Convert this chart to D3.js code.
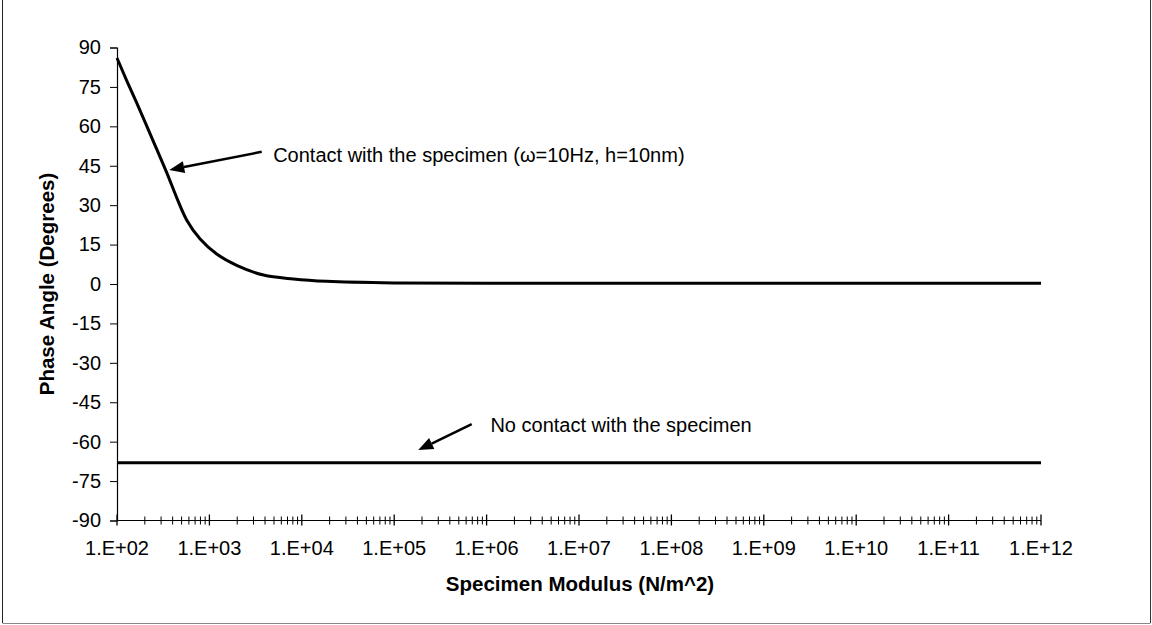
<!DOCTYPE html>
<html><head><meta charset="utf-8">
<script src="https://cdn.jsdelivr.net/npm/d3@7"></script>
<style>body{margin:0;background:#fff}svg{display:block}text{font-family:"Liberation Sans",Arial,sans-serif;fill:#000}</style>
</head><body><svg id="c" width="1152" height="625"></svg>
<script>
// Data
const contactModulus = [1e2, 1.27e2, 1.63e2, 2.09e2, 2.69e2, 3.47e2, 4.47e2, 5.69e2, 7.94e2, 1.2e3, 2e3, 3.85e3, 8.1e3, 1.86e4, 1e5, 1e6, 1e8, 1e10, 1e12];
const contactPhase   = [86, 77.5, 69, 60.3, 51.3, 42.2, 32.5, 24.3, 17.1, 11.4, 7, 3.4, 1.9, 1.0, 0.4, 0.3, 0.3, 0.3, 0.3];
const noContactModulus = [1e2, 1e4, 1e6, 1e8, 1e10, 1e12];
const noContactPhase   = [-68, -68, -68, -68, -68, -68];
const yTicks = [90, 75, 60, 45, 30, 15, 0, -15, -30, -45, -60, -75, -90];
const xTickLabels = ["1.E+02","1.E+03","1.E+04","1.E+05","1.E+06","1.E+07","1.E+08","1.E+09","1.E+10","1.E+11","1.E+12"];
const annotations = [
  {text: "Contact with the specimen (\u03c9=10Hz, h=10nm)", tipX: 368, tipY: 43.4, tailX: 3680, tailY: 50.3, textX: 4900, textY: 46.4},
  {text: "No contact with the specimen", tipX: 1.82e5, tipY: -63.2, tailX: 6.9e5, tailY: -53.3, textX: 1.1e6, textY: -56.3}
];

(function(){
const svg = d3.select("#c");
const pL = 117, pR = 1041, pT = 47.5, pB = 520.5;
const x = d3.scaleLog().domain([1e2, 1e12]).range([pL, pR]);
const y = d3.scaleLinear().domain([-90, 90]).range([pB, pT]);

// frame
svg.append("line").attr("x1",2.5).attr("x2",2.5).attr("y1",0).attr("y2",623).attr("stroke","#222");
svg.append("line").attr("x1",1150.5).attr("x2",1150.5).attr("y1",0).attr("y2",623).attr("stroke","#333");
svg.append("line").attr("x1",2.5).attr("x2",1150.5).attr("y1",623.5).attr("y2",623.5).attr("stroke","#888");

// Y axis
const yAxis = d3.axisLeft(y).tickValues(yTicks).tickSize(7).tickPadding(9).tickFormat(d => String(d));
const gy = svg.append("g").attr("transform",`translate(${pL},0)`).call(yAxis);
gy.select(".domain").attr("stroke","#000").attr("stroke-width",1.2);
gy.selectAll(".tick line").attr("stroke","#000");
gy.selectAll("text").attr("font-size",20).attr("font-family","Liberation Sans, Arial").attr("fill","#000");

// X axis with log minor cross ticks
const gx = svg.append("g");
gx.append("line").attr("x1",pL).attr("x2",pR).attr("y1",pB).attr("y2",pB).attr("stroke","#000").attr("stroke-width",1.2);
const majors = d3.range(2, 13).map(k => Math.pow(10, k));
const minors = [];
d3.range(2, 12).forEach(k => { for (let m = 2; m <= 9; m++) minors.push(m * Math.pow(10, k)); });
gx.selectAll(".mn").data(minors).join("line")
  .attr("x1", d => x(d)).attr("x2", d => x(d)).attr("y1", pB-4).attr("y2", pB+4).attr("stroke","#000");
gx.selectAll(".mj").data(majors).join("line")
  .attr("x1", d => x(d)).attr("x2", d => x(d)).attr("y1", pB-6).attr("y2", pB+5).attr("stroke","#000").attr("stroke-width",1.3);
gx.selectAll(".lb").data(majors).join("text")
  .attr("x", d => x(d)).attr("y", 555).attr("text-anchor","middle").attr("font-size",20)
  .text((d,i) => xTickLabels[i]);

// Titles
svg.append("text").attr("x",580).attr("y",591).attr("text-anchor","middle").attr("font-size",20.5).attr("font-weight","bold").text("Specimen Modulus (N/m^2)");
svg.append("text").attr("transform","translate(54,284) rotate(-90)").attr("text-anchor","middle").attr("font-size",20.5).attr("font-weight","bold").text("Phase Angle (Degrees)");

// Lines
const line = d3.line().x(d => x(d[0])).y(d => y(d[1])).curve(d3.curveCatmullRom.alpha(0.5));
svg.append("path").datum(contactModulus.map((m,i)=>[m, contactPhase[i]]))
  .attr("d", line).attr("fill","none").attr("stroke","#000").attr("stroke-width",3).attr("stroke-linejoin","round");
svg.append("path").datum(noContactModulus.map((m,i)=>[m, noContactPhase[i]]))
  .attr("d", d3.line().x(d => x(d[0])).y(d => y(d[1]))).attr("fill","none").attr("stroke","#000").attr("stroke-width",3);

// Annotations
annotations.forEach(a => {
  const tx = x(a.tipX), ty = y(a.tipY), sx = x(a.tailX), sy = y(a.tailY);
  const ang = Math.atan2(ty - sy, tx - sx);
  const L = 15, W = 6;
  const bx = tx - L*Math.cos(ang), by = ty - L*Math.sin(ang);
  svg.append("line").attr("x1",sx).attr("y1",sy).attr("x2",bx).attr("y2",by).attr("stroke","#000").attr("stroke-width",2.5);
  const p1 = [bx + W*Math.sin(ang), by - W*Math.cos(ang)];
  const p2 = [bx - W*Math.sin(ang), by + W*Math.cos(ang)];
  svg.append("polygon").attr("points", [[tx,ty],p1,p2].map(p=>p.join(",")).join(" ")).attr("fill","#000");
  svg.append("text").attr("x", x(a.textX)).attr("y", y(a.textY)).attr("font-size",20).text(a.text);
});
})();
</script></body></html>
